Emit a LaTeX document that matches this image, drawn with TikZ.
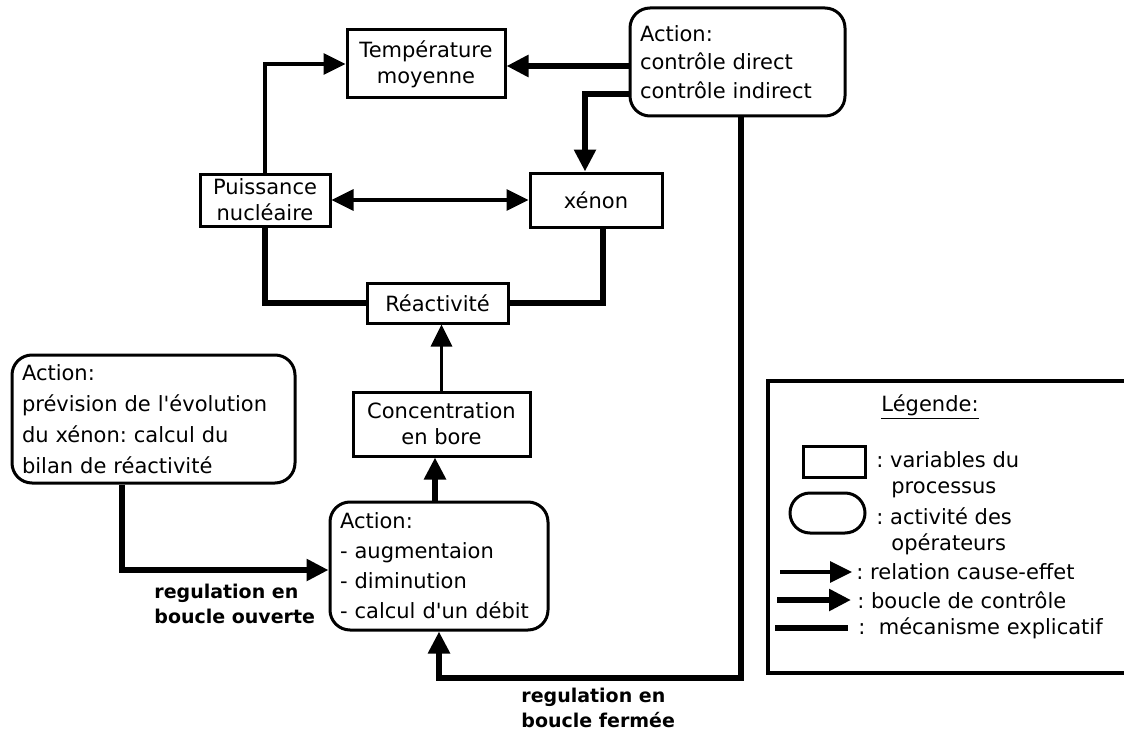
\documentclass[tikz,border=0pt]{standalone}
\usepackage{fontspec}
\setmainfont{DejaVu Sans}
\usetikzlibrary{arrows.meta,positioning}

\tikzset{
  var/.style={draw, line width=1.5pt, align=center, inner sep=1pt,
    font=\fontsize{10.5}{13}\selectfont},
  act/.style={draw, line width=1.5pt, rounded corners=10pt, align=left,
    inner xsep=5pt, inner ysep=2pt, font=\fontsize{10.5}{15}\selectfont},
  tip/.tip={Triangle[length=11pt,width=10.5pt]},
  cause/.style={line width=1.7pt, -tip},
  ctrl/.style={line width=3pt, -tip},
  expl/.style={line width=3pt},
  lab/.style={font=\fontsize{9.5}{12.5}\selectfont\bfseries, align=left, inner sep=0pt},
  legtxt/.style={font=\fontsize{10.5}{13}\selectfont, align=left, inner sep=0pt, anchor=west},
}

\begin{document}
\frenchspacing
\begin{tikzpicture}[x=0.5pt, y=-0.5pt]
  \useasboundingbox (0,0) rectangle (1124,733);

  % variables du processus
  \node[var, minimum width=79pt, minimum height=34pt] (temp) at (426,64) {Température\\moyenne};
  \node[var, minimum width=65pt, minimum height=26pt] (puis) at (265,200) {Puissance\\nucléaire};
  \node[var, minimum width=66pt, minimum height=27pt] (xenon) at (596,200) {xénon};
  \node[var, minimum width=70.5pt, minimum height=20pt] (reac) at (437.5,303) {Réactivité};
  \node[var, minimum width=88.5pt, minimum height=32pt] (bore) at (441.5,424) {Concentration\\en bore};

  % activites des operateurs
  \node[act, text width=97.5pt, minimum height=54pt, font=\fontsize{10.5}{14.25}\selectfont] (actdir) at (737.5,62)
    {Action:\\contrôle direct\\contrôle indirect};
  \node[act, text width=99pt, minimum height=64pt] (actbore) at (439,566)
    {Action:\\- augmentaion\\- diminution\\- calcul d\textquotesingle un débit};
  \node[act, text width=131.5pt, minimum height=64pt, font=\fontsize{10.5}{15.5}\selectfont] (actprev) at (153.5,419)
    {Action:\\prévision de l\textquotesingle évolution\\du xénon: calcul du\\bilan de réactivité};

  \node[lab, anchor=west] (lbopen) at (154,604) {regulation en\\boucle ouverte};
  \node[lab, anchor=west] (lbclosed) at (521,708) {regulation en\\boucle fermée};

  % liens
  \draw[cause] (puis.north) |- (temp.west);
  \draw[line width=1.7pt, tip-tip] (puis.east) -- (xenon.west);
  \draw[cause] (bore.north) -- (bore.north |- reac.south);
  \draw[expl] (puis.south) |- (reac.west);
  \draw[expl] ([xshift=3.5pt]xenon.south) |- (reac.east);
  \draw[ctrl] ([yshift=-2pt]actdir.west) -- ([yshift=-2pt]actdir.west -| temp.east);
  \draw[ctrl] ([yshift=-16pt]actdir.west) -| ([xshift=-5.5pt]xenon.north);
  \draw[ctrl] ([xshift=-2pt]actbore.north) -- ([xshift=-2pt]actbore.north |- bore.south);
  \draw[ctrl] ([xshift=-16pt]actprev.south) |- ([yshift=-2pt]actbore.west);
  \draw[ctrl] ([xshift=1.5pt]actdir.south) -- ++(0,560) -| (actbore.south);

  % legende
  \draw[line width=2pt] (1124,381) -| (768,673) -- (1124,673);
  \node[font=\fontsize{10.5}{13}\selectfont, inner sep=0pt] (legtitle) at (930,407) {\underline{Légende:}};
  \node[draw, line width=1.5pt, minimum width=31pt, minimum height=15.5pt, inner sep=0pt] (legvar) at (834,462) {};
  \node[draw, line width=1.5pt, rounded corners=10pt, minimum width=37.5pt, minimum height=20pt, inner sep=0pt] (legact) at (827.5,513) {};
  \node[legtxt] (txtvar) at (876,475) {: variables du\\\hspace{7.5pt}processus};
  \node[legtxt] (txtact) at (876,531) {: activité des\\\hspace{7.5pt}opérateurs};
  \node[legtxt] (txtcause) at (856,572) {: relation cause-effet};
  \node[legtxt] (txtctrl) at (857,600) {: boucle de contrôle};
  \node[legtxt] (txtexpl) at (858,628) {:\ \ mécanisme explicatif};
  \draw[cause] ([xshift=-38pt]txtcause.west) -- ([xshift=-2pt]txtcause.west);
  \draw[ctrl] ([xshift=-40pt]txtctrl.west) -- ([xshift=-3pt]txtctrl.west);
  \draw[expl] ([xshift=-41.5pt]txtexpl.west) -- ([xshift=-5pt]txtexpl.west);
\end{tikzpicture}
\end{document}
